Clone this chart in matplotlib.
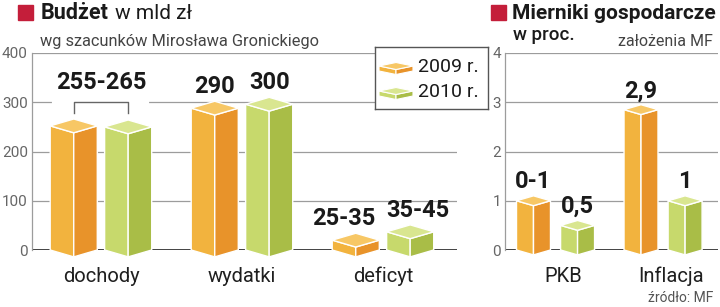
import matplotlib
matplotlib.use("Agg")
import matplotlib.pyplot as plt
from matplotlib.patches import Polygon, Rectangle

plt.rcParams["font.family"] = ["Roboto", "DejaVu Sans"]

# budżet, mld zł
budget_categories = ["dochody", "wydatki", "deficyt"]
budget_2009 = [252, 288, 20]
budget_2010 = [250, 296, 37]
budget_labels_2009 = ["255-265", "290", "25-35"]
budget_labels_2010 = ["", "300", "35-45"]  # dochody: one label for both years
budget_ticks = [0, 100, 200, 300, 400]

# mierniki gospodarcze, %
macro_categories = ["PKB", "Inflacja"]
macro_2009 = [1.0, 2.85]
macro_2010 = [0.5, 1.0]
macro_labels_2009 = ["0-1", "2,9"]
macro_labels_2010 = ["0,5", "1"]
macro_ticks = [0, 1, 2, 3, 4]

years = ["2009 r.", "2010 r."]

ORANGE = {"left": "#F2B33E", "right": "#E8932A", "top": "#F7C765"}
GREEN = {"left": "#C7D96C", "right": "#A9BD47", "top": "#D9E690"}
RED = "#C41E3A"
W, H = 720, 307


def fx(x):
    return x / W


def fy(y):
    return 1 - y / H


def prism(ax, xc, hw, h, d, col, base=0, lw=1.0, z=3):
    # square column turned 45 deg, seen a bit from above
    left = [(xc - hw, base), (xc, base - d), (xc, base + h - d), (xc - hw, base + h)]
    right = [(xc, base - d), (xc + hw, base), (xc + hw, base + h), (xc, base + h - d)]
    top = [(xc - hw, base + h), (xc, base + h - d), (xc + hw, base + h), (xc, base + h + d)]
    for pts, c in ((left, col["left"]), (right, col["right"]), (top, col["top"])):
        ax.add_patch(Polygon(pts, closed=True, facecolor=c, edgecolor="white",
                             lw=lw, joinstyle="round", clip_on=False, zorder=z))


def style_axes(ax, ticks, tick_labels):
    ax.set_ylim(ticks[0], ticks[-1])
    ax.set_yticks(ticks)
    ax.set_yticklabels(tick_labels)
    ax.grid(axis="y", color="#9C9C9C", lw=0.9)
    ax.set_axisbelow(True)
    for s in ("top", "right", "bottom"):
        ax.spines[s].set_visible(False)
    ax.spines["left"].set_color("#9C9C9C")
    ax.spines["left"].set_linewidth(0.9)
    ax.tick_params(axis="y", length=0, pad=3, labelsize=11, labelcolor="#666666")
    ax.tick_params(axis="x", length=0, pad=12, labelsize=14.5, labelcolor="#1F1F1F")
    ax.axhline(0, color="#333333", lw=2, zorder=2)


fig = plt.figure(figsize=(7.2, 3.07), dpi=100)

# ---- left panel: budżet ----
ax1 = fig.add_axes([fx(32), fy(250), fx(457) - fx(32), fy(53) - fy(250)])
style_axes(ax1, budget_ticks, [str(t) for t in budget_ticks])
ax1.set_xlim(-0.489, 2.525)
ax1.set_xticks(range(len(budget_categories)))
ax1.set_xticklabels(budget_categories)

hw1, off1, d1 = 0.167, 0.193, 14
for i, (a, b) in enumerate(zip(budget_2009, budget_2010)):
    prism(ax1, i - off1, hw1, a, d1, ORANGE)
    prism(ax1, i + off1, hw1, b, d1, GREEN)

lab_kw = dict(fontsize=17, fontweight="bold", color="#1A1A1A", va="baseline", zorder=5)
for i, (a, b, la, lb) in enumerate(zip(budget_2009, budget_2010,
                                       budget_labels_2009, budget_labels_2010)):
    if not lb:
        # shared label with a bracket over both columns
        yb = max(a, b) + 48
        ax1.plot([i - 0.33, i + 0.33], [yb, yb], color="white", lw=3, zorder=1.5)
        ax1.plot([i - off1, i - off1, i + off1, i + off1], [yb - 22, yb, yb, yb - 22],
                 color="#666666", lw=1, zorder=4)
        ax1.text(i, yb + 27, la, ha="center", **lab_kw)
    elif a < 100:
        ax1.text(i - off1 + hw1 - 0.03, a + d1 + 17, la, ha="right", **lab_kw)
        ax1.text(i + off1 - hw1, b + d1 + 17, lb, ha="left", **lab_kw)
    else:
        ax1.text(i - off1, a + d1 + 17, la, ha="center", **lab_kw)
        ax1.text(i + off1, b + d1 + 17, lb, ha="center", **lab_kw)

# ---- right panel: mierniki ----
ax2 = fig.add_axes([fx(505), fy(250), fx(718) - fx(505), fy(53) - fy(250)])
style_axes(ax2, macro_ticks, [str(t) for t in macro_ticks])
ax2.set_xlim(-0.47, 1.511)
ax2.set_xticks([i + 0.07 for i in range(len(macro_categories))])
ax2.set_xticklabels(macro_categories)

hw2, off2, d2 = 0.158, 0.205, 0.1
for i, (a, b, la, lb) in enumerate(zip(macro_2009, macro_2010,
                                       macro_labels_2009, macro_labels_2010)):
    prism(ax2, i - off2, hw2, a, d2, ORANGE)
    prism(ax2, i + off2, hw2, b, d2, GREEN)
    ax2.text(i - off2, a + d2 + 0.15, la, ha="center", **lab_kw)
    ax2.text(i + off2, b + d2 + 0.15, lb, ha="center", **lab_kw)

# ---- legend box ----
axl = fig.add_axes([fx(375), fy(109), fx(488) - fx(375), fy(47) - fy(109)])
axl.set_xlim(0, 113)
axl.set_ylim(0, 62)
axl.set_xticks([])
axl.set_yticks([])
for s in axl.spines.values():
    s.set_color("#555555")
    s.set_linewidth(1)
for k, (yr, col) in enumerate(zip(years, (ORANGE, GREEN))):
    base = 38 - 25 * k
    prism(axl, 21, 17, 5, 3.5, col, base=base, lw=0.8)
    axl.text(43, base - 1, yr, fontsize=14, color="#1A1A1A", va="baseline")

# ---- titles ----
fig.patches.append(Rectangle((fx(18), fy(20)), fx(15), fy(5) - fy(20),
                             transform=fig.transFigure, color=RED))
fig.patches.append(Rectangle((fx(491), fy(20)), fx(15), fy(5) - fy(20),
                             transform=fig.transFigure, color=RED))
fig.text(fx(41), fy(19), "Budżet", fontsize=15.5, fontweight="bold", color="#1A1A1A")
fig.text(fx(115), fy(19), "w mld zł", fontsize=15, color="#1A1A1A")
fig.text(fx(40), fy(46), "wg szacunków Mirosława Gronickiego", fontsize=11.8, color="#444444")
fig.text(fx(512), fy(19), "Mierniki gospodarcze", fontsize=15, fontweight="bold", color="#1A1A1A")
fig.text(fx(513), fy(40), "w proc.", fontsize=13.5, fontweight="medium", color="#1A1A1A")
fig.text(fx(713), fy(46), "założenia MF", fontsize=11.5, color="#444444", ha="right")
fig.text(fx(713), fy(302), "źródło: MF", fontsize=10, color="#555555", ha="right")

fig.savefig("out.png", dpi=100)
